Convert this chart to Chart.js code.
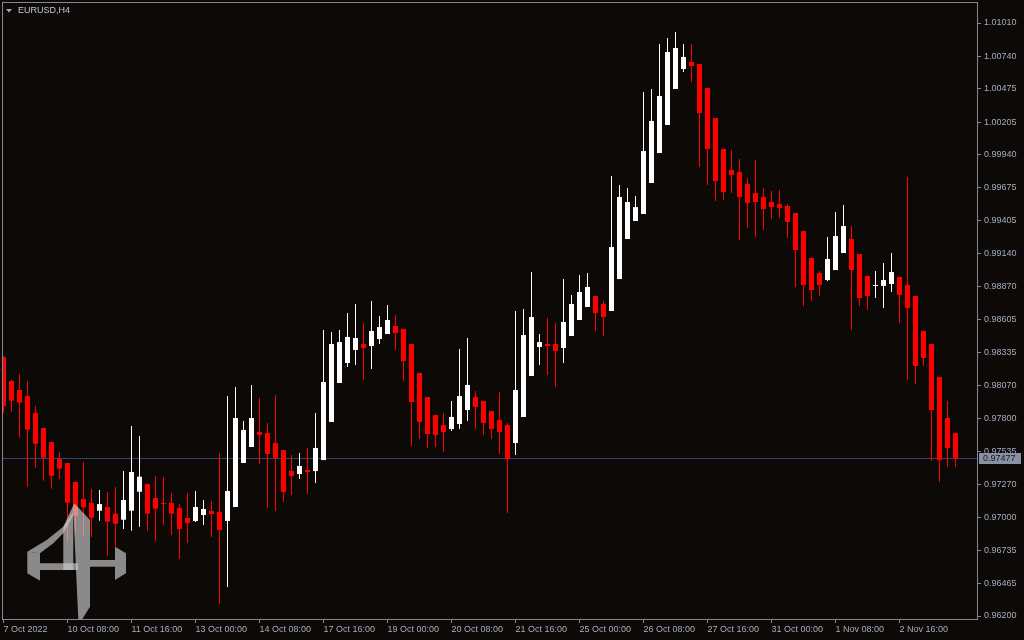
<!DOCTYPE html>
<html>
<head>
<meta charset="utf-8">
<title>EURUSD,H4</title>
<script src="https://cdn.jsdelivr.net/npm/chart.js@4.4.1/dist/chart.umd.min.js"></script>
<style>
    html, body { margin: 0; padding: 0; background: #0c0907; overflow: hidden; }
    canvas { display: block; }
</style>
</head>
<body>
<canvas id="chart" width="1024" height="640"></canvas>
<script>
// EURUSD H4 candles, 7 Oct 2022 00:00 onwards
const open = [
    0.98301, 0.98106, 0.98033, 0.97984, 0.97847, 0.97725, 0.97611, 0.97473, 0.97441, 0.97287,
    0.97149, 0.97117, 0.97054, 0.97084, 0.97030, 0.96981, 0.97054, 0.97208, 0.97271, 0.97157,
    0.97114, 0.97117, 0.97076, 0.96995, 0.96971, 0.97019, 0.97052, 0.97044, 0.96971, 0.97084,
    0.97441, 0.97571, 0.97692, 0.97684, 0.97603, 0.97546, 0.97376, 0.97352, 0.97384, 0.97376,
    0.97465, 0.97774, 0.98090, 0.98252, 0.98358, 0.98406, 0.98390, 0.98447, 0.98487, 0.98552,
    0.98528, 0.98406, 0.98171, 0.97976, 0.97830, 0.97749, 0.97717, 0.97757, 0.97871, 0.97976,
    0.97944, 0.97863, 0.97790, 0.97749, 0.97603, 0.97814, 0.98147, 0.98382, 0.98406, 0.98406,
    0.98374, 0.98471, 0.98601, 0.98706, 0.98796, 0.98731, 0.98674, 0.98933, 0.99258, 0.99404,
    0.99461, 0.99712, 0.99955, 1.00183, 1.00475, 1.00637, 1.00694, 1.00677, 1.00483, 1.00239,
    0.99988, 0.99818, 0.99801, 0.99704, 0.99631, 0.99599, 0.99558, 0.99542, 0.99526, 0.99469,
    0.99323, 0.99104, 0.98982, 0.98925, 0.99006, 0.99144, 0.99258, 0.99136, 0.98958, 0.98877,
    0.98877, 0.98893, 0.98950, 0.98885, 0.98796, 0.98512, 0.98406, 0.98139, 0.97806, 0.97684
];
const high = [
    0.98309, 0.98114, 0.98163, 0.98106, 0.97903, 0.97725, 0.97611, 0.97530, 0.97441, 0.97287,
    0.97449, 0.97230, 0.97222, 0.97206, 0.97246, 0.97376, 0.97741, 0.97660, 0.97271, 0.97336,
    0.97327, 0.97198, 0.97108, 0.97198, 0.97214, 0.97141, 0.97133, 0.97522, 0.97984, 0.98057,
    0.97782, 0.98074, 0.97968, 0.97765, 0.97993, 0.97546, 0.97506, 0.97522, 0.97563, 0.97847,
    0.98520, 0.98504, 0.98520, 0.98658, 0.98731, 0.98577, 0.98755, 0.98633, 0.98723, 0.98641,
    0.98528, 0.98406, 0.98171, 0.97976, 0.97830, 0.97847, 0.97944, 0.98366, 0.98455, 0.98025,
    0.97944, 0.97863, 0.98017, 0.97765, 0.98674, 0.98690, 0.98990, 0.98487, 0.98617, 0.98577,
    0.98933, 0.98804, 0.98966, 0.98982, 0.98796, 0.98755, 0.99769, 0.99696, 0.99672, 0.99607,
    1.00450, 1.00475, 1.00840, 1.00888, 1.00937, 1.00840, 1.00840, 1.00677, 1.00483, 1.00239,
    0.99988, 0.99980, 0.99907, 0.99753, 0.99899, 0.99672, 0.99647, 0.99655, 0.99542, 0.99469,
    0.99323, 0.99104, 0.98998, 0.99274, 0.99477, 0.99534, 0.99363, 0.99136, 0.98958, 0.98998,
    0.99063, 0.99144, 0.98950, 0.99761, 0.98796, 0.98512, 0.98406, 0.98139, 0.97944, 0.97684
];
const low = [
    0.97847, 0.97857, 0.97646, 0.97249, 0.97403, 0.97297, 0.97233, 0.97314, 0.96803, 0.96857,
    0.96843, 0.96838, 0.96973, 0.96689, 0.96762, 0.96906, 0.96892, 0.96924, 0.96892, 0.96811,
    0.96938, 0.96857, 0.96665, 0.96792, 0.96962, 0.96938, 0.96841, 0.96297, 0.96435, 0.97084,
    0.97441, 0.97571, 0.97433, 0.97076, 0.97052, 0.97125, 0.97181, 0.97311, 0.97190, 0.97279,
    0.97465, 0.97774, 0.98090, 0.98220, 0.98236, 0.98114, 0.98203, 0.98406, 0.98487, 0.98358,
    0.98106, 0.97579, 0.97636, 0.97563, 0.97571, 0.97530, 0.97701, 0.97717, 0.97782, 0.97717,
    0.97668, 0.97636, 0.97514, 0.97035, 0.97506, 0.97814, 0.98147, 0.98236, 0.98155, 0.98057,
    0.98252, 0.98471, 0.98601, 0.98706, 0.98512, 0.98471, 0.98674, 0.98933, 0.99258, 0.99404,
    0.99461, 0.99712, 0.99955, 1.00183, 1.00475, 1.00612, 1.00531, 0.99842, 0.99696, 0.99566,
    0.99574, 0.99631, 0.99250, 0.99347, 0.99274, 0.99331, 0.99420, 0.99428, 0.99266, 0.98869,
    0.98714, 0.98755, 0.98796, 0.98917, 0.99006, 0.99144, 0.98520, 0.98714, 0.98682, 0.98779,
    0.98698, 0.98828, 0.98577, 0.98114, 0.98082, 0.98228, 0.97457, 0.97287, 0.97409, 0.97409
];
const close = [
    0.97903, 0.97946, 0.97930, 0.97711, 0.97598, 0.97484, 0.97338, 0.97395, 0.97119, 0.97014,
    0.97082, 0.96997, 0.97108, 0.96965, 0.96949, 0.97141, 0.97368, 0.97330, 0.97030, 0.97070,
    0.97108, 0.97030, 0.96906, 0.96954, 0.97084, 0.97068, 0.97027, 0.96898, 0.97214, 0.97806,
    0.97709, 0.97806, 0.97668, 0.97514, 0.97482, 0.97206, 0.97336, 0.97417, 0.97368, 0.97563,
    0.98098, 0.98406, 0.98422, 0.98463, 0.98455, 0.98374, 0.98512, 0.98544, 0.98601, 0.98495,
    0.98268, 0.97936, 0.97774, 0.97676, 0.97668, 0.97692, 0.97814, 0.97984, 0.98074, 0.97895,
    0.97765, 0.97717, 0.97692, 0.97473, 0.98033, 0.98479, 0.98625, 0.98422, 0.98390, 0.98349,
    0.98585, 0.98731, 0.98828, 0.98869, 0.98658, 0.98625, 0.99193, 0.99599, 0.99558, 0.99517,
    0.99972, 1.00215, 1.00418, 1.00775, 1.00807, 1.00734, 1.00661, 1.00280, 0.99988, 0.99728,
    0.99639, 0.99777, 0.99599, 0.99550, 0.99558, 0.99501, 0.99517, 0.99509, 0.99396, 0.99169,
    0.98885, 0.98844, 0.98885, 0.99096, 0.99282, 0.99363, 0.99006, 0.98779, 0.98796, 0.98885,
    0.98925, 0.98990, 0.98804, 0.98698, 0.98228, 0.98293, 0.97871, 0.97465, 0.97563, 0.97477
];

// one time label every 8 bars
const xTickLabels = [
    "7 Oct 2022", "10 Oct 08:00", "11 Oct 16:00", "13 Oct 00:00", "14 Oct 08:00",
    "17 Oct 16:00", "19 Oct 00:00", "20 Oct 08:00", "21 Oct 16:00", "25 Oct 00:00",
    "26 Oct 08:00", "27 Oct 16:00", "31 Oct 00:00", "1 Nov 08:00", "2 Nov 16:00"
];
const yTickValues = [
    1.01010, 1.00740, 1.00475, 1.00205, 0.99940, 0.99675, 0.99405, 0.99140, 0.98870, 0.98605,
    0.98335, 0.98070, 0.97800, 0.97535, 0.97270, 0.97000, 0.96735, 0.96465, 0.96200
];
const bid = close[close.length - 1];

const BG = '#0c0907';
const FRAME = '#80879a';
const TEXT = '#a4adc0';
const UP = '#ffffff';
const DOWN = '#ff0000';

const candleColors = close.map((c, i) => c >= open[i] ? UP : DOWN);
const wickData = low.map((l, i) => ({ x: i, y: [l, high[i]] }));
const bodyData = open.map((o, i) => ({ x: i, y: [o, close[i]] }));

Chart.defaults.font.family = "'Liberation Sans', Arial, sans-serif";
Chart.defaults.font.size = 9;
Chart.defaults.color = TEXT;

// drop the extra room Chart.js keeps for edge labels
function noEdgePadding(scale) {
    scale.paddingTop = 0;
    scale.paddingBottom = 0;
    scale.paddingLeft = 0;
    scale.paddingRight = 0;
}

// background, bid line, frame, title, logo, bid label
const terminalDecor = {
    id: 'terminalDecor',
    beforeDraw(chart) {
        const ctx = chart.ctx;
        ctx.save();
        ctx.fillStyle = BG;
        ctx.fillRect(0, 0, chart.width, chart.height);
        ctx.restore();
    },
    beforeDatasetsDraw(chart) {
        const ctx = chart.ctx, a = chart.chartArea;
        const y = Math.floor(chart.scales.y.getPixelForValue(bid)) + 0.5;
        ctx.save();
        ctx.strokeStyle = '#3a4070';
        ctx.lineWidth = 1;
        ctx.beginPath();
        ctx.moveTo(a.left, y);
        ctx.lineTo(a.right, y);
        ctx.stroke();
        ctx.restore();
    },
    afterDatasetsDraw(chart) {
        const ctx = chart.ctx, a = chart.chartArea;
        ctx.save();

        // watermark logo
        ctx.beginPath();
        ctx.rect(a.left, a.top, a.right - a.left, a.bottom - a.top);
        ctx.clip();
        ctx.fillStyle = 'rgba(200, 200, 200, 0.68)';
        const shapes = [
            [[74.3, 503.3], [90, 520], [90, 606.7], [81.7, 620], [78.3, 620], [73.3, 510]],
            [[74.3, 503.3], [73.3, 515], [63.3, 533.3], [53.3, 543.3], [40, 553.3], [27.3, 551.7], [46.7, 540], [63.3, 526.7]],
            [[63.3, 526.7], [73.3, 512], [73.3, 570], [63.3, 570]],
            [[27.3, 551.7], [40, 553.3], [40, 580.7], [27.3, 573.3]],
            [[40, 563.3], [78, 563.3], [78, 570], [40, 570]],
            [[90, 560], [115, 560], [115, 566.7], [90, 566.7]],
            [[115, 546.7], [126, 553.3], [126, 573.3], [115, 580]]
        ];
        shapes.forEach(pts => {
            ctx.beginPath();
            pts.forEach((p, k) => k ? ctx.lineTo(p[0], p[1]) : ctx.moveTo(p[0], p[1]));
            ctx.closePath();
            ctx.fill();
        });
        ctx.restore();

        ctx.save();
        // chart frame
        ctx.strokeStyle = FRAME;
        ctx.lineWidth = 1;
        ctx.strokeRect(a.left + 0.5, a.top + 0.5, a.right - a.left, a.bottom - a.top);

        // symbol title
        ctx.fillStyle = '#a8acb4';
        ctx.beginPath();
        ctx.moveTo(6, 9);
        ctx.lineTo(12, 9);
        ctx.lineTo(9, 12.5);
        ctx.closePath();
        ctx.fill();
        ctx.fillStyle = '#c4c8d0';
        ctx.font = "9px 'Liberation Sans', Arial, sans-serif";
        ctx.textBaseline = 'middle';
        ctx.textAlign = 'left';
        ctx.fillText('EURUSD,H4', 18, 11);

        // bid label on the price axis
        const y = chart.scales.y.getPixelForValue(bid);
        ctx.fillStyle = '#8a90a4';
        ctx.fillRect(979, Math.round(y) - 6, 42, 11);
        ctx.fillStyle = '#141824';
        ctx.fillText(bid.toFixed(5), 983, Math.round(y) - 0.5);
        ctx.restore();
    }
};

const chart = new Chart(document.getElementById('chart'), {
    type: 'bar',
    data: {
        datasets: [
            {
                label: 'Wick',
                data: wickData,
                backgroundColor: candleColors,
                barThickness: 1,
                grouped: false,
                inflateAmount: 0,
                order: 2
            },
            {
                label: 'Body',
                data: bodyData,
                backgroundColor: candleColors,
                barThickness: 5,
                minBarLength: 1,
                grouped: false,
                inflateAmount: 0,
                order: 1
            }
        ]
    },
    options: {
        responsive: false,
        animation: false,
        events: [],
        layout: { padding: { left: 2, top: 2, right: 0, bottom: 0 } },
        plugins: {
            legend: { display: false },
            tooltip: { enabled: false }
        },
        scales: {
            x: {
                type: 'linear',
                offset: false,
                min: -0.1875,
                max: 121.6875,
                bounds: 'data',
                border: { display: false },
                grid: { drawOnChartArea: false, drawTicks: true, tickLength: 4, color: FRAME, offset: false },
                afterBuildTicks: scale => {
                    scale.ticks = xTickLabels.map((t, k) => ({ value: k * 8 }));
                },
                afterFit: scale => {
                    scale.height = 21;
                    noEdgePadding(scale);
                },
                ticks: {
                    autoSkip: false,
                    maxRotation: 0,
                    align: 'start',
                    padding: 1,
                    color: TEXT,
                    callback: v => xTickLabels[v / 8]
                }
            },
            y: {
                position: 'right',
                min: 0.9617567,
                max: 1.0118034,
                bounds: 'data',
                border: { display: false },
                grid: { drawOnChartArea: false, drawTicks: true, tickLength: 4, color: FRAME },
                afterBuildTicks: scale => {
                    scale.ticks = yTickValues.map(v => ({ value: v }));
                },
                afterFit: scale => {
                    scale.width = 47;
                    noEdgePadding(scale);
                },
                ticks: {
                    padding: 3,
                    color: TEXT,
                    callback: v => v.toFixed(5)
                }
            }
        }
    },
    plugins: [terminalDecor]
});
</script>
</body>
</html>
